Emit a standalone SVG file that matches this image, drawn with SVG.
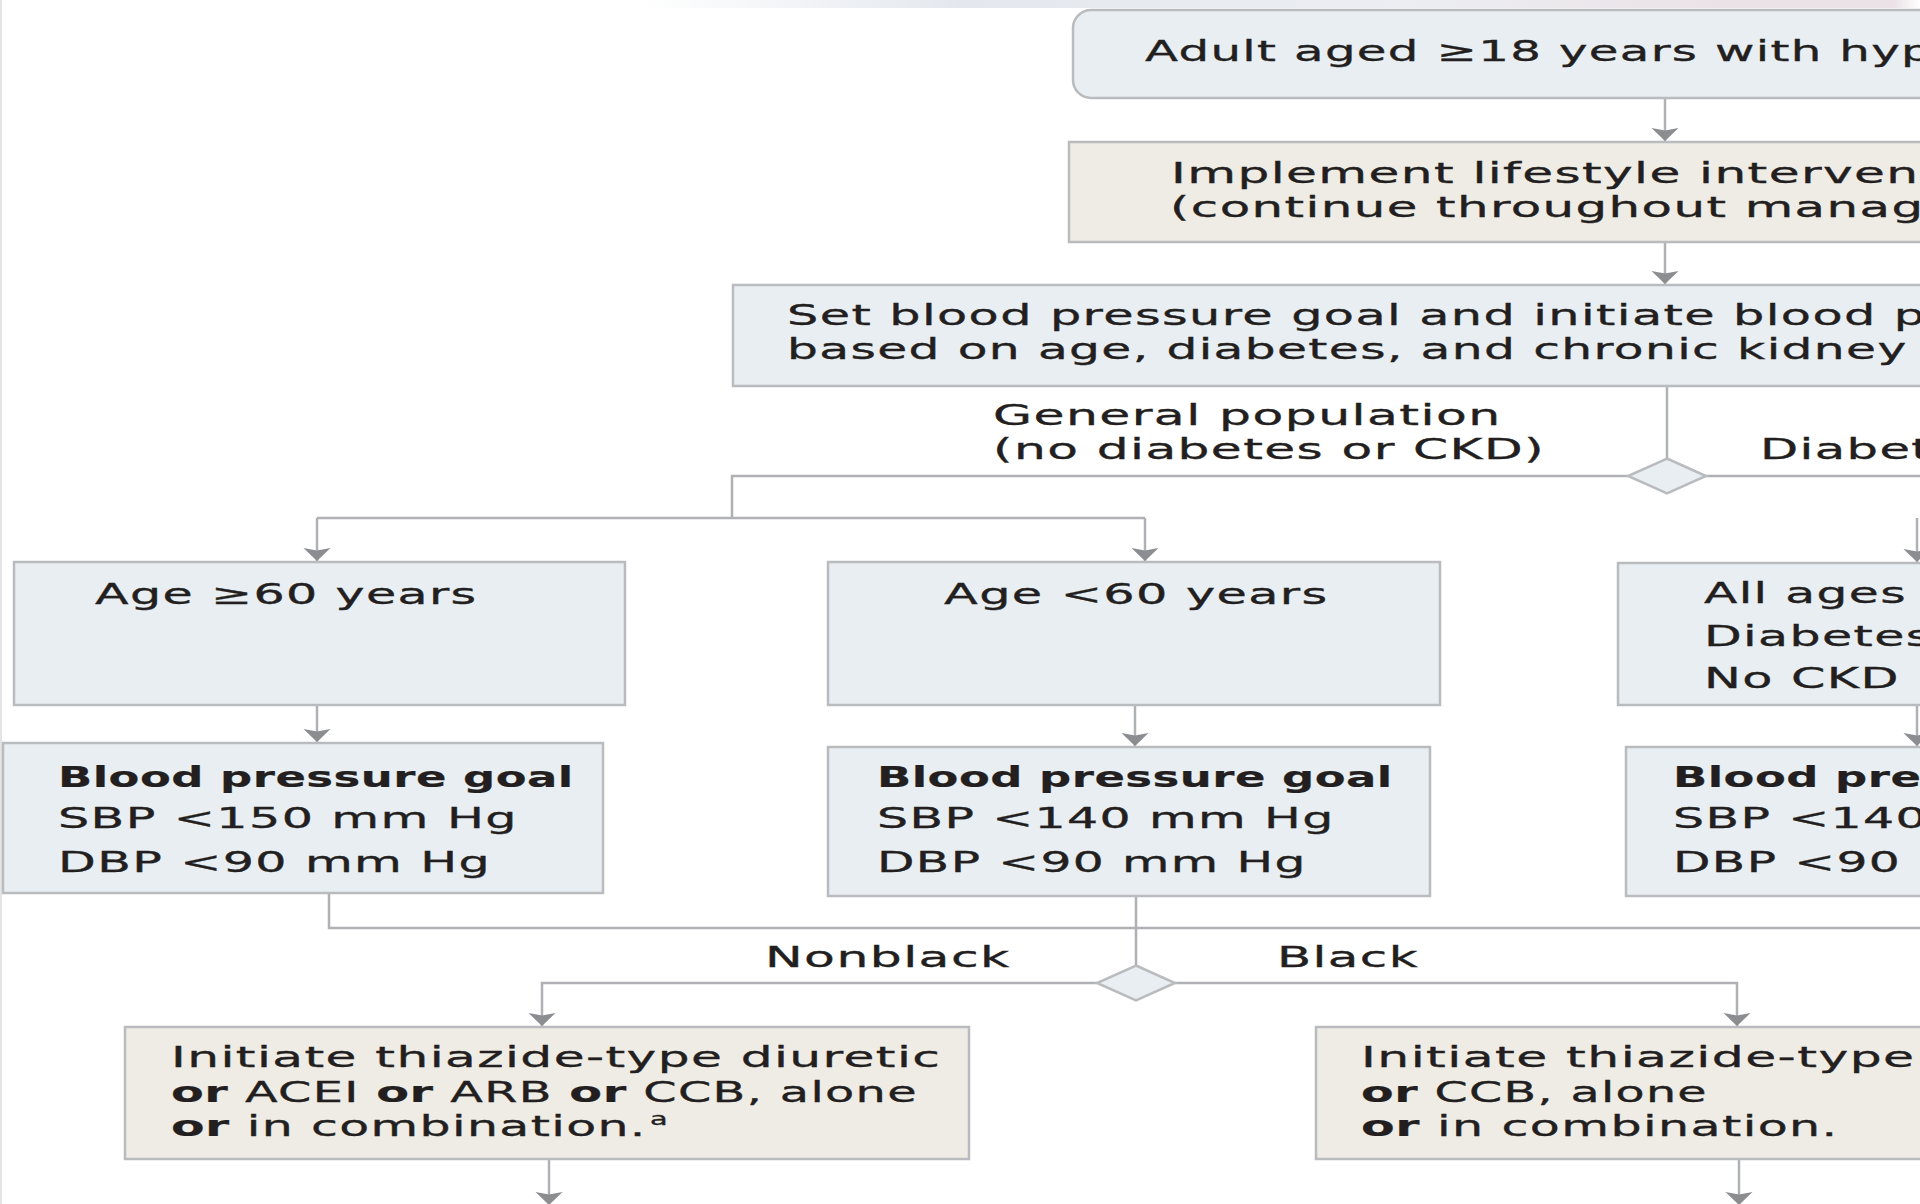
<svg xmlns="http://www.w3.org/2000/svg" width="1920" height="1204" viewBox="0 0 1920 1204">
  <defs>
    <style>
      .box { fill: #e8eef2; stroke: #b9bbbe; stroke-width: 2.5; }
      .beige { fill: #efece6; }
      .dia { fill: #e8eef2; stroke: #b9bbbe; stroke-width: 2.5; }
      .conn { fill: none; stroke: #afb1b4; stroke-width: 2.5; }
      .arrow { marker-end: url(#head); }
      .t { font-family: "DejaVu Sans", "Liberation Sans", sans-serif; font-size: 28px; fill: #231f20; stroke: #231f20; stroke-width: 0.35px; letter-spacing: 0.8px; }
      .big { font-size: 29px; }
      .b { font-weight: bold; letter-spacing: 0.3px; stroke-width: 0.2px; }
      .sup { font-size: 18px; letter-spacing: 0; }
    </style>
    <marker id="head" markerUnits="userSpaceOnUse" markerWidth="30" markerHeight="30" viewBox="-15 -15 30 30" refX="0" refY="0" orient="auto">
      <path d="M0,0 L-13,-13.5 L-10.5,0 L-13,13.5 Z" fill="#8b8d91"/>
    </marker>
    <linearGradient id="band" x1="0" y1="0" x2="1" y2="0">
      <stop offset="0" stop-color="#ffffff"/>
      <stop offset="0.25" stop-color="#e4e8ee"/>
      <stop offset="0.6" stop-color="#eceef2"/>
      <stop offset="0.85" stop-color="#ebe2e7"/>
      <stop offset="0.98" stop-color="#ebe2e7"/>
      <stop offset="1" stop-color="#ffffff"/>
    </linearGradient>
  </defs>

  <!-- page background and top edge band -->
  <rect x="0" y="0" width="1920" height="1204" fill="#ffffff"/>
  <rect x="640" y="0" width="1280" height="8" fill="url(#band)"/>
  <rect x="0" y="0" width="2" height="1204" fill="#e4e4e4"/>

  <!-- connectors -->
  <g id="connectors">
    <line class="conn arrow" x1="1665" y1="98" x2="1665" y2="141"/>
    <line class="conn arrow" x1="1665" y1="242" x2="1665" y2="284"/>
    <line class="conn" x1="1667" y1="386" x2="1667" y2="459"/>
    <polyline class="conn" points="1628,476 732,476 732,518"/>
    <line class="conn" x1="1706" y1="476" x2="1920" y2="476"/>
    <line class="conn" x1="317" y1="518" x2="1145" y2="518"/>
    <line class="conn arrow" x1="317" y1="518" x2="317" y2="561"/>
    <line class="conn arrow" x1="1145" y1="518" x2="1145" y2="561"/>
    <line class="conn arrow" x1="1917" y1="518" x2="1917" y2="562"/>
    <line class="conn arrow" x1="317" y1="705" x2="317" y2="742"/>
    <line class="conn arrow" x1="1135" y1="705" x2="1135" y2="746"/>
    <line class="conn arrow" x1="1917" y1="705" x2="1917" y2="746"/>
    <polyline class="conn" points="329,893 329,928 1920,928"/>
    <line class="conn" x1="1136" y1="896" x2="1136" y2="966"/>
    <polyline class="conn arrow" points="1097,983 542,983 542,1026"/>
    <polyline class="conn arrow" points="1175,983 1737,983 1737,1026"/>
    <line class="conn arrow" x1="549" y1="1159" x2="549" y2="1205"/>
    <line class="conn arrow" x1="1739" y1="1159" x2="1739" y2="1205"/>
  </g>

  <!-- decision points -->
  <g id="split-population">
    <polygon class="dia" points="1667,458.5 1706,476 1667,493.5 1628,476"/>
  </g>
  <g id="split-race">
    <polygon class="dia" points="1136,965.5 1175,983 1136,1000.5 1097,983"/>
  </g>

  <!-- nodes (text is widened horizontally with a per-line scale) -->
  <g id="adult">
    <rect class="box" x="1073" y="10" width="900" height="88" rx="18"/>
    <text class="t big" transform="translate(1145,61) scale(1.664,1)">Adult aged ≥18 years with hyp</text>
  </g>

  <g id="lifestyle">
    <rect class="box beige" x="1069" y="142" width="900" height="100"/>
    <text class="t" transform="translate(1171,183) scale(1.79,1)">Implement lifestyle interven</text>
    <text class="t" transform="translate(1170,217) scale(1.779,1)">(continue throughout manag</text>
  </g>

  <g id="set-goal">
    <rect class="box" x="733" y="285" width="1250" height="101"/>
    <text class="t" transform="translate(787,325) scale(1.761,1)">Set blood pressure goal and initiate blood p</text>
    <text class="t" transform="translate(787,359) scale(1.738,1)">based on age, diabetes, and chronic kidney</text>
  </g>

  <g id="label-general">
    <text class="t" transform="translate(993,425) scale(1.80,1)">General population</text>
    <text class="t" transform="translate(993,459) scale(1.792,1)">(no diabetes or CKD)</text>
  </g>
  <g id="label-diabetes">
    <text class="t" transform="translate(1760,459) scale(1.77,1)">Diabet</text>
  </g>

  <g id="age-60-plus">
    <rect class="box" x="14" y="562" width="611" height="143"/>
    <text class="t" transform="translate(95,604) scale(1.751,1)">Age ≥60 years</text>
  </g>

  <g id="age-under-60">
    <rect class="box" x="828" y="562" width="612" height="143"/>
    <text class="t" transform="translate(944,604) scale(1.761,1)">Age &lt;60 years</text>
  </g>

  <g id="all-ages">
    <rect class="box" x="1618" y="563" width="400" height="142"/>
    <text class="t" transform="translate(1704,603) scale(1.738,1)">All ages</text>
    <text class="t" transform="translate(1704,646) scale(1.75,1)">Diabetes</text>
    <text class="t" transform="translate(1704,688) scale(1.761,1)">No CKD</text>
  </g>

  <g id="goal-150">
    <rect class="box" x="3" y="743" width="600" height="150"/>
    <text class="t b" transform="translate(58,787) scale(1.605,1)">Blood pressure goal</text>
    <text class="t" transform="translate(58,828) scale(1.755,1)">SBP &lt;150 mm Hg</text>
    <text class="t" transform="translate(58,872) scale(1.752,1)">DBP &lt;90 mm Hg</text>
  </g>

  <g id="goal-140">
    <rect class="box" x="828" y="747" width="602" height="149"/>
    <text class="t b" transform="translate(877,787) scale(1.605,1)">Blood pressure goal</text>
    <text class="t" transform="translate(877,828) scale(1.747,1)">SBP &lt;140 mm Hg</text>
    <text class="t" transform="translate(877,872) scale(1.739,1)">DBP &lt;90 mm Hg</text>
  </g>

  <g id="goal-diabetes">
    <rect class="box" x="1626" y="747" width="400" height="149"/>
    <text class="t b" transform="translate(1673,787) scale(1.605,1)">Blood pre</text>
    <text class="t" transform="translate(1673,828) scale(1.747,1)">SBP &lt;140</text>
    <text class="t" transform="translate(1673,872) scale(1.739,1)">DBP &lt;90 m</text>
  </g>

  <g id="label-race">
    <text class="t" transform="translate(765,967) scale(1.80,1)">Nonblack</text>
    <text class="t" transform="translate(1277,967) scale(1.78,1)">Black</text>
  </g>

  <g id="treat-nonblack">
    <rect class="box beige" x="125" y="1027" width="844" height="132"/>
    <text class="t" transform="translate(171,1067) scale(1.793,1)">Initiate thiazide-type diuretic</text>
    <text class="t" transform="translate(171,1102) scale(1.705,1)"><tspan class="b">or</tspan> ACEI <tspan class="b">or</tspan> ARB <tspan class="b">or</tspan> CCB, alone</text>
    <text class="t" transform="translate(171,1136) scale(1.746,1)"><tspan class="b">or</tspan> in combination.</text>
    <text class="t sup" transform="translate(650,1125) scale(1.6,1)">a</text>
  </g>

  <g id="treat-black">
    <rect class="box beige" x="1316" y="1027" width="700" height="132"/>
    <text class="t" transform="translate(1361,1067) scale(1.80,1)">Initiate thiazide-type</text>
    <text class="t" transform="translate(1361,1102) scale(1.697,1)"><tspan class="b">or</tspan> CCB, alone</text>
    <text class="t" transform="translate(1361,1136) scale(1.753,1)"><tspan class="b">or</tspan> in combination.</text>
  </g>
</svg>
